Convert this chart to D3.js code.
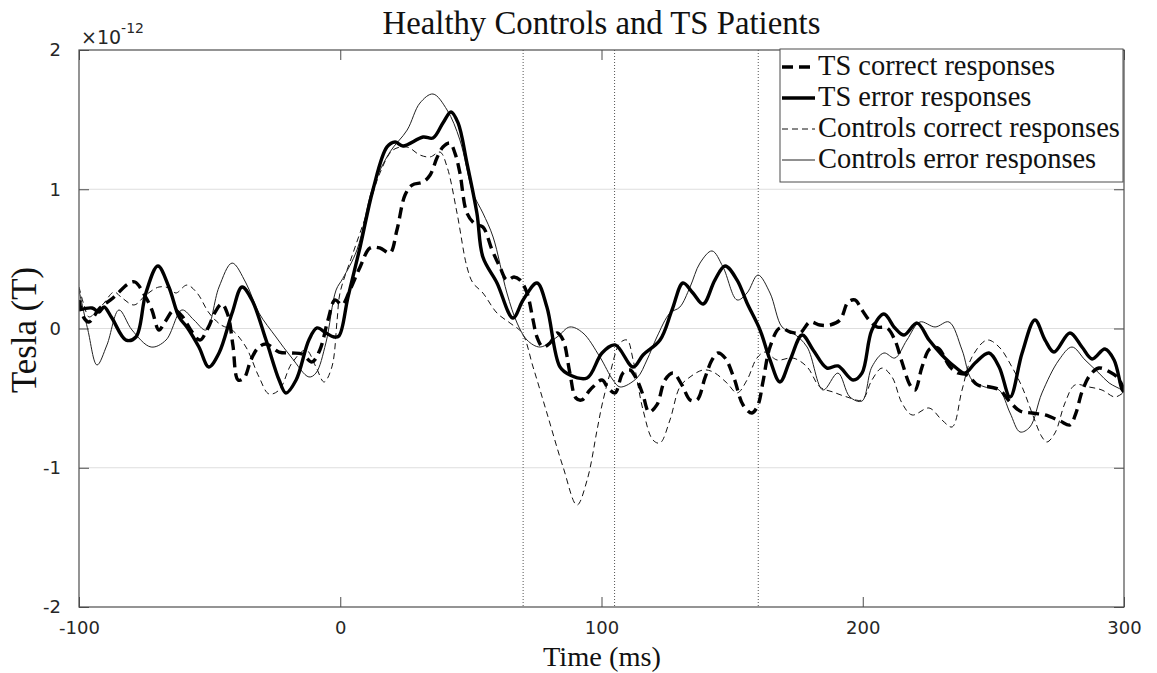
<!DOCTYPE html>
<html><head><meta charset="utf-8">
<script src="https://cdn.jsdelivr.net/npm/d3@7"></script>
<style>body{margin:0;background:#fff;} svg{display:block;}</style>
</head><body>
<svg id="chart" width="1157" height="673"></svg>
<script>
// Values in units of 1e-12 T, time in ms
const tsCorrect = [[-100,0.205],[-98.1,0.075],[-96.2,0.047],[-92,0.147],[-87,0.219],[-81.2,0.32],[-78.6,0.334],[-74.7,0.233],[-72.1,0.133],[-69.4,-0.011],[-67.1,0.047],[-63.6,0.133],[-60.6,0.09],[-56.7,-0.025],[-53.7,-0.083],[-50.6,0.004],[-47.9,0.118],[-45.3,0.176],[-43,0.097],[-41.1,-0.118],[-39.1,-0.37],[-36.8,-0.355],[-34.2,-0.226],[-31.5,-0.14],[-28.4,-0.111],[-23.4,-0.169],[-18.5,-0.176],[-14.6,-0.183],[-10.8,-0.24],[-7.8,-0.154],[-4.7,0.061],[-2,0.205],[0.7,0.169],[3.7,0.276],[7.6,0.442],[11.4,0.578],[15.2,0.578],[19,0.542],[21.7,0.707],[24.8,0.959],[27.5,1.03],[31.7,1.052],[34.4,1.102],[37,1.224],[39.3,1.303],[42,1.332],[43.9,1.26],[45.8,1.117],[48.5,0.829],[51.6,0.75],[54.6,0.729],[58.1,0.564],[61.1,0.442],[63.8,0.348],[66.5,0.37],[68.8,0.348],[71.5,0.255],[73.8,0.061],[75.3,-0.061],[77.6,-0.133],[80.3,-0.104],[83,-0.032],[85.3,-0.083],[87.9,-0.32],[90.2,-0.499],[92.5,-0.513],[95.6,-0.442],[100.2,-0.37],[102.5,-0.427],[105.2,-0.463],[108.2,-0.32],[110.9,-0.298],[113.6,-0.37],[115.9,-0.478],[118.2,-0.6],[121.2,-0.549],[124.3,-0.37],[127.4,-0.32],[130.8,-0.406],[133.9,-0.513],[136.6,-0.513],[139.6,-0.355],[142.3,-0.226],[144.6,-0.176],[147.3,-0.212],[150.7,-0.355],[154.2,-0.549],[157.6,-0.607],[159.9,-0.549],[161.8,-0.384],[164.5,-0.133],[168.3,0.004],[172.2,-0.025],[176,-0.032],[179.8,0.047],[183.6,0.025],[187.5,0.025],[191.3,0.061],[194.4,0.19],[197,0.205],[199.7,0.133],[202.4,0.061],[205.5,0.011],[209.3,0.004],[212.3,-0.083],[215,-0.24],[218.1,-0.406],[220,-0.442],[222.7,-0.276],[225.7,-0.147],[228.8,-0.14],[233.4,-0.276],[236.5,-0.32],[239.9,-0.334],[244.1,-0.406],[248.7,-0.42],[252.5,-0.442],[256.4,-0.528],[260.2,-0.592],[264.8,-0.607],[269.8,-0.621],[275.5,-0.664],[279.3,-0.693],[281.6,-0.607],[283.9,-0.456],[287,-0.334],[290.4,-0.284],[294.6,-0.312],[297.7,-0.355],[300,-0.442]];

const tsError = [[-100,0.133],[-95,0.147],[-92.3,0.118],[-90.4,0.154],[-87.4,0.075],[-82,-0.083],[-78.2,-0.061],[-74.4,0.255],[-69.8,0.449],[-65.6,0.298],[-61.7,0.083],[-58.7,0.011],[-54.1,-0.133],[-50.3,-0.276],[-46.4,-0.176],[-41.4,0.111],[-37.6,0.298],[-33.8,0.205],[-28.4,-0.083],[-23.4,-0.37],[-20.8,-0.463],[-16.9,-0.37],[-12,-0.083],[-8.9,0.004],[-5.5,-0.032],[-2.4,-0.061],[-0.5,-0.054],[2.96,0.226],[7.6,0.585],[12.5,0.995],[17.9,1.304],[21,1.339],[24,1.311],[31.7,1.375],[35.5,1.368],[39.3,1.476],[42.4,1.555],[45.1,1.476],[48.5,1.188],[52.3,0.829],[54.6,0.513],[60,0.327],[66.1,0.075],[70,0.205],[75.3,0.327],[79.1,0.154],[84.1,-0.276],[87.9,-0.334],[94.5,-0.355],[100.2,-0.176],[105.2,-0.118],[112.1,-0.276],[115.9,-0.19],[122.4,-0.083],[127,0.133],[131.2,0.327],[135,0.255],[138.9,0.176],[143.4,0.348],[147.3,0.449],[151.9,0.348],[155.7,0.183],[160.7,-0.011],[164.5,-0.226],[168.3,-0.384],[172.2,-0.226],[176.8,-0.047],[181,-0.154],[186.3,-0.284],[190.5,-0.269],[196.3,-0.37],[199.7,-0.32],[203.5,-0.011],[208.1,0.104],[212.3,0.004],[215.8,-0.047],[220.8,0.039],[225.4,-0.083],[230.3,-0.19],[235.3,-0.276],[239.1,-0.32],[243,-0.248],[248.3,-0.176],[252.2,-0.276],[256.4,-0.492],[261,-0.176],[265.9,0.061],[269.8,-0.083],[273.2,-0.169],[279.3,-0.032],[283.9,-0.133],[287.8,-0.219],[292.7,-0.147],[296.2,-0.226],[299.2,-0.434],[300,-0.456]];

const ctrlCorrect = [[-100,0.298],[-98.1,0.169],[-96.2,0.083],[-93.5,0.118],[-90.4,0.183],[-86.6,0.262],[-83.5,0.219],[-78.9,0.169],[-74.4,0.241],[-69.4,0.298],[-65.6,0.291],[-62.9,0.255],[-58.7,0.312],[-54.8,0.255],[-50.2,0.111],[-45.6,0.025],[-41.4,-0.011],[-36.1,-0.133],[-31.1,-0.348],[-27.3,-0.47],[-23.4,-0.442],[-18.5,-0.248],[-13.1,-0.154],[-9.3,-0.276],[-6.2,-0.384],[-3.2,-0.276],[-1.2,0.061],[-0.1,0.255],[4.9,0.542],[10.2,0.829],[15.2,1.117],[20.2,1.282],[25.6,1.303],[30.5,1.246],[34.4,1.232],[38.2,1.267],[40.9,1.16],[44.7,0.829],[48.5,0.442],[50.8,0.327],[54.6,0.255],[60,0.111],[65,0.039],[69.6,-0.032],[73.8,-0.276],[79.1,-0.607],[85.3,-0.995],[90.6,-1.268],[94.5,-1.088],[98.3,-0.729],[100.2,-0.549],[103.3,-0.32],[107.1,-0.104],[109.8,-0.083],[112.1,-0.226],[115.9,-0.585],[119.7,-0.801],[122.4,-0.822],[126.2,-0.657],[130,-0.42],[133.9,-0.348],[138.9,-0.298],[142.7,-0.312],[148,-0.391],[151.9,-0.463],[155.7,-0.37],[159.5,-0.212],[162.6,-0.169],[167.2,-0.226],[173.3,-0.212],[178.7,-0.276],[183.6,-0.42],[188.6,-0.456],[194,-0.492],[199.7,-0.513],[203.5,-0.37],[207.4,-0.284],[211.2,-0.348],[215,-0.535],[218.9,-0.621],[225.4,-0.571],[230.3,-0.657],[234.2,-0.707],[238,-0.442],[241.8,-0.205],[247.6,-0.083],[252.2,-0.133],[257.1,-0.276],[261,-0.42],[264.8,-0.607],[268.6,-0.779],[270.5,-0.815],[273.6,-0.75],[277.4,-0.535],[281.2,-0.406],[286.6,-0.42],[291.6,-0.442],[296.6,-0.492],[300,-0.456]];

const ctrlError = [[-100,0.276],[-96.6,-0.011],[-93.1,-0.262],[-89.3,-0.118],[-84.7,0.133],[-79.7,-0.011],[-72.4,-0.133],[-66.7,-0.083],[-60.6,0.133],[-56,0.061],[-51.4,-0.011],[-46.4,0.298],[-41.4,0.47],[-36.1,0.327],[-31.1,0.111],[-24.6,-0.061],[-18.5,-0.212],[-12,-0.348],[-9.3,-0.32],[-5.5,-0.104],[-1.6,0.276],[1,0.36],[6.4,0.564],[12.5,1.016],[19,1.267],[25.6,1.425],[30.5,1.619],[35.5,1.684],[40.9,1.569],[45.8,1.354],[50.8,0.973],[54.6,0.829],[58.5,0.657],[63.8,0.255],[67.7,0.039],[71.5,-0.083],[76.5,-0.133],[83,-0.061],[87.9,0.011],[92.9,-0.032],[99.4,-0.205],[104.4,-0.37],[107.1,-0.42],[113.6,-0.355],[117.4,-0.226],[121.2,-0.061],[126.2,0.111],[130,0.154],[133.9,0.298],[137.7,0.47],[142.3,0.557],[146.5,0.442],[151.9,0.205],[155.7,0.255],[159.9,0.384],[164.5,0.255],[169.1,0.011],[173.3,-0.032],[178.7,-0.133],[184.8,-0.442],[190.5,-0.32],[195.1,-0.492],[199.7,-0.521],[203.5,-0.276],[208.1,-0.176],[212.3,-0.212],[216.9,-0.083],[221.9,0.047],[227.7,0.011],[233,0.047],[238,-0.154],[241.8,-0.37],[246.8,-0.42],[252.2,-0.442],[256.4,-0.607],[260.2,-0.743],[264,-0.707],[268.6,-0.463],[275.1,-0.226],[280.1,-0.133],[285.1,-0.226],[290.4,-0.32],[294.3,-0.391],[299.2,-0.442],[300,-0.456]];

const seriesNames = ["TS correct responses","TS error responses","Controls correct responses","Controls error responses"];
const markerTimes = [70, 105, 160];
const xTicks = [-100, 0, 100, 200, 300];
const yTicks = [-2, -1, 0, 1, 2];
const gridY = [-1, 0, 1];
const titleText = "Healthy Controls and TS Patients";
const xLabel = "Time (ms)";
const yLabel = "Tesla (T)";
const exponentLabel = "-12";

const svg = d3.select("#chart");
const L = 79, R = 1124, T = 50, B = 607;
const x = d3.scaleLinear().domain([-100, 300]).range([L, R]);
const y = d3.scaleLinear().domain([-2, 2]).range([B, T]);
const serif = "'Liberation Serif', 'Times New Roman', serif";
const sans = "'DejaVu Sans', sans-serif";
const axisColor = "#4d4d4d";

function fitText(sel, target){
  const w = sel.node().getComputedTextLength();
  const fs = parseFloat(sel.attr("font-size"));
  sel.attr("font-size", fs * target / w);
}

// grid
svg.append("g").selectAll("line").data(gridY).join("line")
  .attr("x1", L).attr("x2", R).attr("y1", d => y(d)).attr("y2", d => y(d))
  .attr("stroke", "#dedede").attr("stroke-width", 1);

// marker lines
svg.append("g").selectAll("line").data(markerTimes).join("line")
  .attr("x1", d => x(d)).attr("x2", d => x(d)).attr("y1", T).attr("y2", B)
  .attr("stroke", "#555").attr("stroke-width", 1).attr("stroke-dasharray", "1,2");

svg.append("clipPath").attr("id", "clip").append("rect")
  .attr("x", L).attr("y", T).attr("width", R - L).attr("height", B - T);

const line = d3.line().x(d => x(d[0])).y(d => y(d[1])).curve(d3.curveCatmullRom.alpha(0.5));
const styles = [
  {data: tsCorrect, w: 3.4, dash: "11,6", color: "#000"},
  {data: tsError, w: 3.4, dash: null, color: "#000"},
  {data: ctrlCorrect, w: 1, dash: "6,4", color: "#111"},
  {data: ctrlError, w: 1, dash: null, color: "#222"}
];
const gl = svg.append("g").attr("clip-path", "url(#clip)");
[2,3,0,1].forEach(i => {
  const s = styles[i];
  gl.append("path").attr("d", line(s.data)).attr("fill", "none")
    .attr("stroke", s.color).attr("stroke-width", s.w)
    .attr("stroke-dasharray", s.dash).attr("stroke-linejoin", "round");
});

// axes
const fmt = d => String(d);
const xAxisB = d3.axisBottom(x).tickValues(xTicks).tickSize(-10).tickPadding(14).tickFormat(fmt);
const xAxisT = d3.axisTop(x).tickValues(xTicks).tickSize(-10).tickFormat("");
const yAxisL = d3.axisLeft(y).tickValues(yTicks).tickSize(-10).tickPadding(18).tickFormat(fmt);
const yAxisR = d3.axisRight(y).tickValues(yTicks).tickSize(-10).tickFormat("");
function styleAxis(g){
  g.select(".domain").remove();
  g.selectAll(".tick line").attr("stroke", axisColor);
  g.selectAll("text").attr("font-family", sans).attr("font-size", 18).attr("fill", "#262626");
}
svg.append("g").attr("transform", `translate(0,${B})`).call(xAxisB).call(styleAxis);
svg.append("g").attr("transform", `translate(0,${T})`).call(xAxisT).call(styleAxis);
svg.append("g").attr("transform", `translate(${L},0)`).call(yAxisL).call(styleAxis);
svg.append("g").attr("transform", `translate(${R},0)`).call(yAxisR).call(styleAxis);
svg.append("rect").attr("x", L).attr("y", T).attr("width", R - L).attr("height", B - T)
  .attr("fill", "none").attr("stroke", axisColor).attr("stroke-width", 1.2);

// exponent
const ex = svg.append("text").attr("x", 81).attr("y", 44).attr("font-family", sans).attr("font-size", 19).attr("fill", "#262626");
ex.append("tspan").text("\u00d710");
ex.append("tspan").attr("font-size", 14).attr("dy", -11).text(exponentLabel);

// title & labels
const tt = svg.append("text").attr("x", (L + R) / 2 + 0).attr("y", 34).attr("text-anchor", "middle")
  .attr("font-family", serif).attr("font-size", 28).attr("fill", "#111").text(titleText);
fitText(tt, 438);
const xl = svg.append("text").attr("x", 602).attr("y", 666).attr("text-anchor", "middle")
  .attr("font-family", serif).attr("font-size", 24).attr("fill", "#111").text(xLabel);
fitText(xl, 118);
const yl = svg.append("text").attr("transform", "translate(36,330) rotate(-90)").attr("text-anchor", "middle")
  .attr("font-family", serif).attr("font-size", 26).attr("fill", "#111").text(yLabel);
fitText(yl, 126);

// legend
const lg = svg.append("g");
lg.append("rect").attr("x", 780).attr("y", 49).attr("width", 343).attr("height", 133)
  .attr("fill", "#fff").attr("stroke", "#4d4d4d").attr("stroke-width", 1);
const rowY = [67, 98, 129, 160];
styles.forEach((s, i) => {
  lg.append("line").attr("x1", 782).attr("x2", 815).attr("y1", rowY[i]).attr("y2", rowY[i])
    .attr("stroke", s.color).attr("stroke-width", s.w).attr("stroke-dasharray", s.dash);
  const t = lg.append("text").attr("x", 818).attr("y", rowY[i] + 8)
    .attr("font-family", serif).attr("font-size", 25).attr("fill", "#111").text(seriesNames[i]);
  if (i === 2) fitText(t, 302);
});
const fsLeg = lg.selectAll("text").filter((d, i) => i === 2).attr("font-size");
lg.selectAll("text").attr("font-size", fsLeg);
</script>
</body></html>
